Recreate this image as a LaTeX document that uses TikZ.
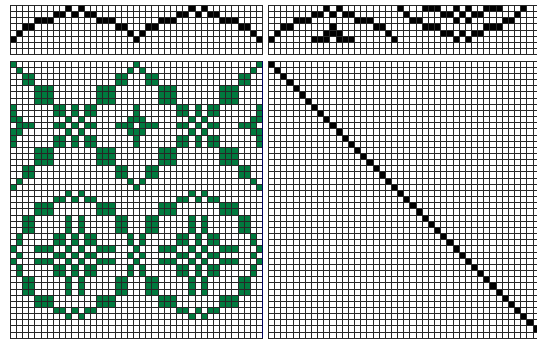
\documentclass[tikz,border=0pt]{standalone}
\usepackage{tikz}
\definecolor{weftgreen}{HTML}{007A3E}
\definecolor{selvedge}{HTML}{000060}

\begin{document}
\begin{tikzpicture}[x=1bp, y=-1bp,
		gridline/.style={line width=0.85bp, black!85},
		warp/.style={fill=black},
		weft/.style={fill=weftgreen}]
	\useasboundingbox[fill=white] (0,0) rectangle (537,339);

	% Threading (top left)
	\begin{scope}[shift={(10.3,5.5)}, x=6.155bp, y=-6.125bp]
		\foreach \row/\cols in {0/{9,11,29,31}, 1/{7,8,10,12,13,27,28,30,32,33}, 2/{4,5,6,14,15,16,24,25,26,34,35,36}, 3/{2,3,17,18,22,23,37,38}, 4/{1,19,21,39}, 5/{0,20,40}}
			\foreach \c in \cols
				\fill[warp] (\c,\row) rectangle ++(1,1);
		\foreach \c in {0,...,41}
			\draw[gridline] (\c,0) -- (\c,8);
		\foreach \r in {0,...,8}
			\draw[gridline] (0,\r) -- (41,\r);
	\end{scope}

	% Tie-up (top right)
	\begin{scope}[shift={(268.3,5.5)}, x=6.155bp, y=-6.125bp]
		\foreach \row/\cols in {0/{9,11,21,25,26,27,30,32,35,36,37,41}, 1/{7,8,10,12,13,22,28,29,31,33,34,40}, 2/{4,5,6,14,15,16,23,24,30,32,38,39}, 3/{2,3,10,17,18,25,26,27,35,36,37}, 4/{1,9,10,11,19,28,29,31,33,34}, 5/{0,7,8,9,11,12,13,20,30,32}}
			\foreach \c in \cols
				\fill[warp] (\c,\row) rectangle ++(1,1);
		\foreach \c in {0,...,44}
			\draw[gridline] (\c,0) -- (\c,8);
		\foreach \r in {0,...,8}
			\draw[gridline] (0,\r) -- (44,\r);
	\end{scope}

	% Drawdown (bottom left)
	\begin{scope}[shift={(10.3,61)}, x=6.155bp, y=-6.16bp]
		\foreach \cols/\rows in {
			{9,11,29,31}/{9,11,21,25,26,27,30,32,35,36,37,41},
			{7,8,10,12,13,27,28,30,32,33}/{7,8,10,12,13,22,28,29,31,33,34,40},
			{4,5,6,14,15,16,24,25,26,34,35,36}/{4,5,6,14,15,16,23,24,30,32,38,39},
			{2,3,17,18,22,23,37,38}/{2,3,10,17,18,25,26,27,35,36,37},
			{1,19,21,39}/{1,9,10,11,19,28,29,31,33,34},
			{0,20,40}/{0,7,8,9,11,12,13,20,30,32}}
			\foreach \c in \cols
				\foreach \r in \rows
					\fill[weft] (\c,\r) rectangle ++(1,1);
		\foreach \c in {0,...,40}
			\draw[gridline] (\c,0) -- (\c,45);
		\foreach \r in {0,...,45}
			\draw[gridline] (0,\r) -- (41,\r);
		\draw[selvedge, line width=1bp] (41,0) -- (41,45);
	\end{scope}

	% Treadling (bottom right)
	\begin{scope}[shift={(268.3,61)}, x=6.155bp, y=-6.16bp]
		\foreach \c in {0,...,43}
			\fill[warp] (\c,\c) rectangle ++(1,1);
		\foreach \c in {0,...,44}
			\draw[gridline] (\c,0) -- (\c,45);
		\foreach \r in {0,...,45}
			\draw[gridline] (0,\r) -- (44,\r);
	\end{scope}
\end{tikzpicture}
\end{document}
